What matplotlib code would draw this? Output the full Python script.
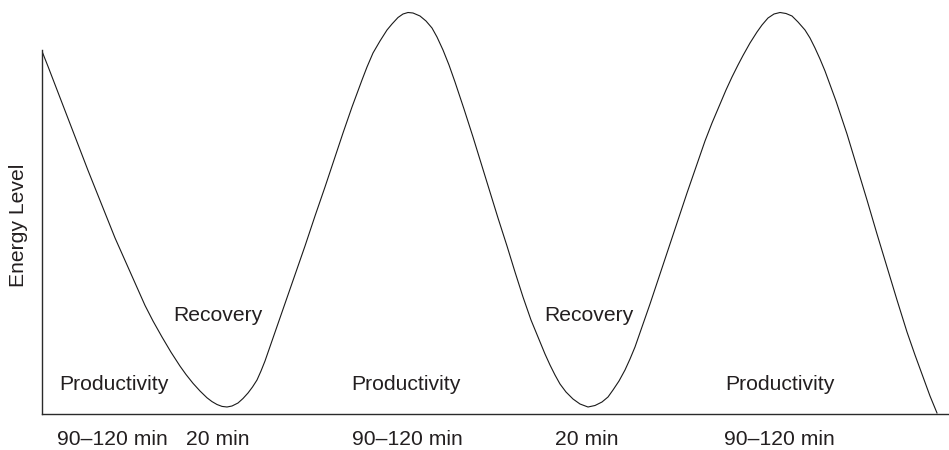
import numpy as np
import matplotlib
matplotlib.use('Agg')
import matplotlib.pyplot as plt

plt.rcParams['font.family'] = ['Liberation Sans', 'DejaVu Sans']

# curve (x: time from the y axis, y: energy above the base line)
# first drop
t0 = [0, 6.5, 13.5, 18.5, 23.5, 29.5, 36.5, 41.5, 46.5, 52.5, 58.5, 66.5, 73.5, 80.5, 88.5, 95.5,
      103.5, 111.5, 120.5, 129.5, 138.5, 144.5, 151.5, 158.5, 165.5, 170.5, 175.5, 180.5, 185.5]
e0 = [364, 347.6, 329.4, 316.4, 303.4, 287.8, 269.6, 256.6, 243.6, 228.6, 213.6, 193.6, 176.1, 160.4, 142.4, 126.6,
      108.6, 93, 77, 61.8, 47.9, 39.5, 30.7, 23, 16.2, 12.4, 9.5, 7.6, 7]
# first rise
t1 = [190.5, 196.5, 201.5, 206.5, 211, 215.5, 219.5, 223.5, 231.5, 239.5, 246.5, 254.5, 263.5, 273.5, 283.5,
      292.5, 301.5, 310.5, 320.5, 325.5, 331.5, 338.5, 345.5, 350.5, 356.5, 361.5, 366.5]
e1 = [8, 11, 15.5, 21, 27, 34, 43, 53, 76, 99, 119, 142, 168, 198, 227,
      254, 281, 307, 334, 347, 361, 373, 384, 390, 396.5, 400, 401.5]
# second drop
t2 = [371.5, 378.5, 384.5, 390.5, 395.5, 401.5, 407.5, 413.5, 422.5, 431.5, 439.5, 448.5, 456.5, 465.5, 473.5,
      481.5, 489.5, 498.5, 503.5, 508.5, 513.5, 518.5, 524.5, 531.5, 538.5, 546.5]
e2 = [401, 398, 393, 386, 377, 364, 349, 332, 305, 277, 251, 222, 196, 168, 142,
      117, 94, 72, 60, 49, 39, 30, 22, 15, 10, 7]
# second rise
t3 = [553.5, 560.5, 566.5, 571.5, 577.5, 583.5, 588.5, 593.5, 600.5, 608.5, 616.5, 625.5, 635.5, 645.5, 654.5,
      663.5, 670.5, 678.5, 684.5, 690.5, 696.5, 701.5, 708.5, 715.5, 720.5, 726.5, 732.5, 738.5]
e3 = [8.5, 12, 17, 24, 33, 44, 55, 67, 87, 110, 134, 161, 191, 221, 247,
      273, 291, 310, 324, 337, 349, 358.5, 371, 382, 389, 396, 400, 401.5]
# last drop
t4 = [744.5, 750.5, 756.5, 763.5, 768.5, 773.5, 778.5, 783.5, 794.5, 805.5, 815.5, 825.5, 835.5, 845.5, 855.5,
      865.5, 873.5, 881.5, 888.5, 895.5]
e4 = [400.5, 398, 392, 384, 376, 366, 355, 343, 313, 280, 247, 214, 180, 147, 114,
      82, 59, 37, 18, 1]

time_pts = t0 + t1 + t2 + t3 + t4
energy_pts = e0 + e1 + e2 + e3 + e4

# phase labels inside the plot
phase_names = ['Productivity', 'Recovery', 'Productivity', 'Recovery', 'Productivity']
phase_x = [72, 176.5, 364.5, 547.5, 738.5]
phase_y = [24, 93, 24, 93, 24]

# durations under the axis
dur_labels = ['90\u2013120 min', '20 min', '90\u2013120 min', '20 min', '90\u2013120 min']
dur_x = [70.5, 176.5, 365.5, 545.5, 737.5]

W, H = 949, 450
fig = plt.figure(figsize=(W / 100, H / 100), dpi=100)
ax = fig.add_axes([41.5 / W, 36 / H, 907.5 / W, 414 / H])

ax.plot(time_pts, energy_pts, color='#1a1a1a', lw=0.8, solid_joinstyle='round')

ax.set_xlim(0, 907.5)
ax.set_ylim(0, 414)
ax.set_xticks([])
ax.set_yticks([])
ax.spines['top'].set_visible(False)
ax.spines['right'].set_visible(False)
ax.spines['left'].set_bounds(0, energy_pts[0])
for s in ('left', 'bottom'):
    ax.spines[s].set_color('#2a2a2a')
    ax.spines[s].set_linewidth(1.0)

txt_col = '#231f20'
for name, x, y in zip(phase_names, phase_x, phase_y):
    ax.text(x, y, name, ha='center', va='baseline', fontsize=15.2, color=txt_col)

for lab, x in zip(dur_labels, dur_x):
    ax.text(x, -31, lab, ha='center', va='baseline', fontsize=15.2, color=txt_col, clip_on=False)

fig.text(18.5 / W, 1 - 225 / H, 'Energy Level', rotation=90, ha='center', va='center',
         fontsize=15.2, color=txt_col)

fig.savefig('out.png', dpi=100)
